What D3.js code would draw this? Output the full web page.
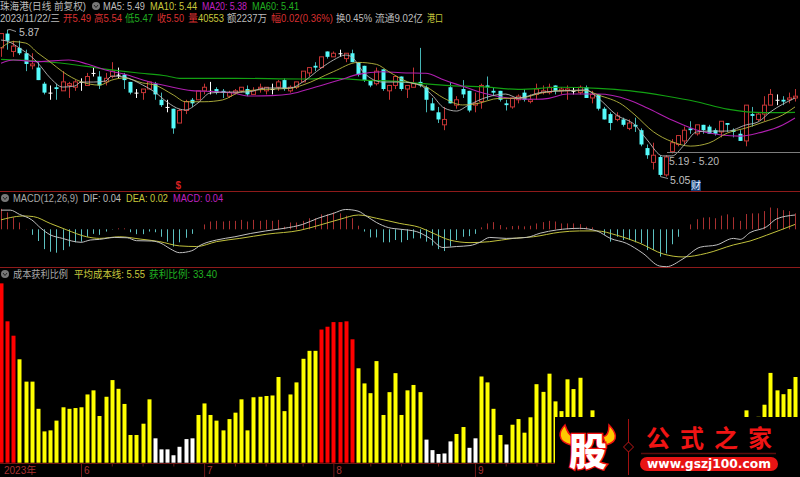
<!DOCTYPE html>
<html><head><meta charset="utf-8">
<script src="https://cdn.jsdelivr.net/npm/d3@7"></script>
<style>html,body{margin:0;padding:0;background:#000;overflow:hidden}svg{display:block}text{font-family:"Liberation Sans","Noto Sans CJK SC",sans-serif}</style>
</head><body><svg id="c" width="800" height="477"></svg>
<script>
const opens=[5.77,5.85,5.75,5.77,5.74,5.67,5.66,5.57,5.52,5.55,5.53,5.56,5.55,5.58,5.56,5.63,5.61,5.58,5.61,5.62,5.62,5.58,5.52,5.52,5.54,5.57,5.48,5.44,5.43,5.35,5.42,5.48,5.48,5.53,5.53,5.54,5.53,5.50,5.52,5.53,5.54,5.51,5.54,5.53,5.54,5.55,5.59,5.53,5.55,5.58,5.63,5.67,5.66,5.75,5.72,5.74,5.71,5.74,5.69,5.67,5.59,5.57,5.65,5.53,5.56,5.61,5.54,5.55,5.58,5.55,5.46,5.41,5.34,5.55,5.45,5.54,5.53,5.45,5.47,5.56,5.53,5.53,5.46,5.44,5.48,5.52,5.47,5.51,5.52,5.52,5.56,5.53,5.53,5.53,5.52,5.55,5.49,5.51,5.43,5.40,5.37,5.37,5.32,5.34,5.31,5.21,5.13,5.16,5.06,5.19,5.23,5.25,5.32,5.29,5.34,5.33,5.31,5.30,5.35,5.31,5.29,5.25,5.40,5.37,5.40,5.45,5.48,5.48,5.48,5.49];
const highs=[5.85,5.87,5.81,5.81,5.76,5.74,5.69,5.58,5.56,5.57,5.64,5.58,5.59,5.60,5.63,5.66,5.64,5.63,5.69,5.66,5.63,5.58,5.54,5.54,5.58,5.58,5.52,5.48,5.43,5.43,5.48,5.49,5.53,5.57,5.58,5.55,5.54,5.53,5.54,5.55,5.56,5.55,5.57,5.55,5.57,5.59,5.60,5.56,5.58,5.64,5.66,5.69,5.72,5.75,5.75,5.76,5.74,5.76,5.69,5.67,5.59,5.66,5.65,5.56,5.61,5.61,5.56,5.66,5.77,5.56,5.49,5.44,5.44,5.58,5.50,5.59,5.53,5.52,5.57,5.61,5.55,5.53,5.48,5.49,5.51,5.54,5.51,5.57,5.56,5.57,5.56,5.55,5.56,5.55,5.56,5.56,5.53,5.51,5.44,5.41,5.41,5.38,5.37,5.38,5.32,5.23,5.24,5.17,5.17,5.26,5.28,5.33,5.36,5.34,5.34,5.34,5.32,5.36,5.35,5.32,5.31,5.45,5.44,5.41,5.50,5.54,5.51,5.50,5.52,5.54];
const lows=[5.72,5.76,5.72,5.73,5.64,5.65,5.59,5.51,5.48,5.48,5.53,5.49,5.53,5.53,5.56,5.61,5.54,5.56,5.60,5.60,5.54,5.51,5.49,5.48,5.54,5.48,5.44,5.41,5.29,5.35,5.40,5.44,5.48,5.51,5.51,5.51,5.49,5.49,5.51,5.52,5.50,5.51,5.52,5.51,5.51,5.53,5.53,5.52,5.54,5.58,5.61,5.64,5.66,5.71,5.72,5.72,5.69,5.69,5.61,5.58,5.55,5.56,5.53,5.48,5.54,5.53,5.49,5.55,5.55,5.41,5.42,5.35,5.31,5.46,5.43,5.49,5.41,5.41,5.43,5.48,5.50,5.47,5.42,5.43,5.46,5.47,5.46,5.48,5.51,5.51,5.51,5.51,5.48,5.51,5.51,5.49,5.46,5.42,5.37,5.31,5.36,5.33,5.31,5.30,5.22,5.15,5.09,5.05,5.05,5.18,5.22,5.23,5.29,5.28,5.29,5.29,5.28,5.27,5.30,5.27,5.25,5.22,5.33,5.36,5.36,5.45,5.45,5.45,5.46,5.47];
const closes=[5.85,5.81,5.78,5.74,5.68,5.68,5.59,5.52,5.52,5.54,5.58,5.57,5.58,5.58,5.61,5.63,5.56,5.60,5.64,5.62,5.59,5.52,5.52,5.54,5.58,5.51,5.45,5.44,5.32,5.42,5.47,5.46,5.53,5.55,5.53,5.52,5.52,5.52,5.53,5.55,5.51,5.53,5.55,5.55,5.54,5.58,5.54,5.55,5.58,5.64,5.66,5.66,5.72,5.72,5.74,5.74,5.74,5.69,5.62,5.59,5.56,5.64,5.54,5.56,5.61,5.54,5.56,5.57,5.56,5.48,5.42,5.37,5.37,5.46,5.48,5.51,5.42,5.46,5.56,5.55,5.52,5.48,5.45,5.49,5.50,5.48,5.48,5.54,5.53,5.55,5.53,5.54,5.54,5.53,5.55,5.49,5.51,5.43,5.37,5.35,5.39,5.34,5.35,5.33,5.23,5.17,5.17,5.06,5.16,5.24,5.28,5.31,5.31,5.34,5.31,5.29,5.29,5.36,5.34,5.30,5.25,5.45,5.39,5.40,5.45,5.51,5.48,5.47,5.49,5.50];

const ma5=[[0,5.814],[1,5.808],[3,5.769],[5,5.719],[6,5.685],[8,5.602],[10,5.551],[12,5.557],[13,5.579],[15,5.579],[17,5.585],[18,5.613],[20,5.607],[23,5.563],[25,5.523],[27,5.467],[29,5.428],[30,5.423],[32,5.462],[34,5.518],[37,5.523],[40,5.523],[43,5.546],[47,5.546],[49,5.579],[52,5.657],[54,5.702],[56,5.730],[57,5.719],[59,5.630],[62,5.579],[65,5.579],[68,5.563],[70,5.507],[72,5.434],[74,5.417],[76,5.451],[79,5.495],[82,5.512],[84,5.490],[88,5.523],[91,5.529],[95,5.535],[97,5.490],[100,5.395],[103,5.339],[105,5.255],[107.5,5.166],[109,5.166],[111,5.227],[113,5.300],[115,5.305],[118,5.305],[121,5.339],[123,5.356],[125,5.412],[129,5.49]];
const ma10=[[0,5.769],[2,5.805],[4,5.797],[6,5.741],[8,5.691],[10,5.637],[13,5.581],[16,5.562],[18,5.590],[20,5.602],[23,5.574],[25,5.562],[28,5.507],[30,5.469],[33,5.469],[36,5.479],[39,5.525],[43,5.538],[47,5.544],[49,5.562],[54,5.637],[58,5.689],[61,5.678],[63,5.637],[66,5.581],[69,5.553],[72,5.488],[75,5.451],[77,5.456],[81,5.488],[84,5.488],[88,5.519],[91,5.531],[95,5.531],[97,5.507],[101,5.451],[103,5.395],[106,5.301],[109,5.246],[112,5.221],[115,5.238],[118,5.294],[121,5.322],[124,5.357],[127,5.395],[129,5.44]];
const ma20=[[0,5.684],[2,5.702],[6,5.693],[11,5.702],[14,5.680],[17,5.646],[20,5.624],[24,5.581],[27,5.557],[31,5.531],[35,5.525],[38,5.516],[40,5.501],[44,5.503],[47,5.512],[51,5.550],[55,5.590],[58,5.622],[62,5.637],[65,5.631],[69,5.628],[72,5.590],[76,5.544],[79,5.512],[83,5.488],[87,5.483],[89,5.488],[92,5.512],[97,5.512],[102,5.479],[105,5.434],[109,5.367],[113,5.311],[117,5.283],[120,5.277],[123,5.294],[127,5.339],[129,5.378]];
const ma60=[[0,5.706],[5,5.698],[11,5.680],[16,5.656],[22,5.631],[27,5.613],[29,5.600],[38,5.600],[49,5.596],[54,5.600],[59,5.590],[65,5.581],[68,5.572],[73,5.559],[78,5.553],[84,5.538],[91,5.550],[97,5.544],[102,5.531],[108,5.501],[113,5.469],[118,5.428],[124,5.408],[129,5.41]];

const macdHist=[.063,.052,.037,.021,.001,-.017,-.036,-.061,-.069,-.072,-.064,-.053,-.040,-.038,-.023,-.014,-.017,-.007,-.001,.003,.003,-.009,-.015,-.015,-.007,-.009,-.023,-.038,-.053,-.040,-.026,-.014,0,.015,.024,.026,.024,.026,.026,.029,.024,.029,.026,.029,.026,.029,.008,.021,.021,.026,.034,.034,.046,.046,.052,.049,.042,.034,.011,-.007,-.025,-.025,-.040,-.040,-.033,-.040,-.033,-.028,-.028,-.038,-.050,-.061,-.067,-.053,-.033,-.023,-.021,-.014,.006,.018,.022,.013,.006,.010,.011,.009,.011,.018,.022,.026,.024,.018,.018,.018,.016,.008,.006,0,-.017,-.038,-.023,-.033,-.033,-.040,-.043,-.064,-.064,-.084,-.074,-.046,-.023,0,.015,.031,.036,.037,.034,.042,.046,.037,.026,.047,.049,.049,.056,.067,.065,.059,.056,.049];
const dif=[[0,.059],[1.5,.059],[3,.046],[5,.029],[6.5,.003],[8,-.017],[10,-.028],[11.5,-.036],[13,-.040],[14.5,-.033],[16,-.031],[18.5,-.025],[20.5,-.026],[22,-.035],[24.5,-.036],[26,-.043],[27.5,-.060],[29,-.072],[31,-.066],[32.5,-.048],[35,-.033],[38,-.023],[40.5,-.013],[43,-.005],[46,.003],[49,.015],[51.5,.034],[54,.049],[56,.061],[58,.056],[59.5,.039],[61,.021],[63,.005],[65,0],[67.5,-.007],[69.7,-.028],[71.8,-.056],[74,-.053],[76.2,-.050],[77.8,-.040],[79.4,-.025],[82.1,-.028],[85.4,-.025],[87.6,-.012],[90.3,-.002],[94,.003],[96.8,-.005],[99,-.028],[101.6,-.043],[104.3,-.074],[107,-.113],[108.1,-.115],[110.8,-.091],[113.6,-.055],[116.3,-.048],[119,-.028],[120.1,-.031],[121.7,-.010],[124.4,.008],[126,.032],[129,.044]];
const dea=[[0,.029],[1.5,.036],[3.6,.041],[5.3,.039],[8,.018],[10.7,-.002],[13.9,-.023],[16,-.028],[19.3,-.023],[22.6,-.030],[25.8,-.038],[29,-.051],[31.8,-.053],[35,-.038],[38.8,-.028],[43.2,-.015],[48.6,-.003],[51.8,.013],[55.1,.031],[58.1,.044],[61,.034],[64.8,.018],[68,.006],[70.2,-.012],[72.9,-.033],[76.2,-.041],[79.4,-.038],[83.2,-.028],[86.5,-.023],[90.8,-.009],[94,-.005],[96.8,-.005],[100,-.018],[103.8,-.043],[107.6,-.076],[110.8,-.085],[114.6,-.074],[119,-.048],[121.7,-.036],[124.4,-.018],[129,.015]];

const profitRatio=[69.9,55.1,49.5,40.3,31.6,31.6,21.0,12.2,12.6,16.4,21.6,21.0,21.3,21.6,26.6,28.2,18.2,25.7,32.2,28.8,22.9,10.8,10.8,15.2,24.7,9.5,5.2,5.2,2.9,6.2,9.2,9.5,18.6,23.1,18.6,16.4,12.6,17.0,19.5,24.7,12.6,25.5,25.7,26.0,26.2,33.4,20.1,26.6,31.3,40.5,43.6,43.6,51.9,53.0,54.8,54.8,55.1,48.1,36.8,30.9,27.1,39.6,18.6,27.5,34.9,18.6,28.2,30.3,27.5,9.0,4.9,3.4,3.6,8.3,11.2,13.9,5.8,9.5,33.6,31.3,21.0,10.8,7.1,14.8,17.0,11.7,17.7,30.6,27.6,34.7,23.9,20.1,32.5,28.7,33.1,null,20.4,null,null,null,null,null,null,null,null,null,null,null,null,null,null,null,null,null,null,null,null,null,null,null,null,20.4,null,17.9,22.6,35.0,28.2,26.7,28.7,33.4];

const monthTicks=[0,13,33,54,77];
const monthLabels=["2023年","6","7","8","9"];
const minorTicks=[18,23,28,38,43,49,60,65,71,82,87];

const svg=d3.select("#c");
const x=d3.scaleLinear().domain([0,129]).range([1,795]);
const yP=d3.scaleLinear().domain([5.05,5.87]).range([176.7,30]);
const yM=d3.scaleLinear().domain([-.12,.07]).range([268.3,206.55]);
const yB=d3.scaleLinear().domain([0,70]).range([462.7,283.1]);
const idx=d3.range(opens.length);
const RED="#c23434",CY="#55fbfb",CYW="#45b4b4";

svg.append("rect").attr("width",800).attr("height",477).attr("fill","#000");

// pane rules
svg.selectAll("line.rule").data([191.5,267.5]).join("line").attr("x1",0).attr("x2",800)
  .attr("y1",d=>d).attr("y2",d=>d).attr("stroke","#8e1a1a");

// candles
const col=i=>closes[i]>opens[i]?RED:closes[i]<opens[i]?CY:"#fff";
const wick=i=>closes[i]>opens[i]?RED:closes[i]<opens[i]?CYW:"#fff";
const px=i=>Math.round(x(i))+.5;
svg.append("g").selectAll("line").data(idx).join("line")
  .attr("x1",px).attr("x2",px).attr("y1",i=>yP(highs[i])).attr("y2",i=>yP(lows[i])).attr("stroke",wick);
svg.append("g").selectAll("rect").data(idx).join("rect")
  .attr("x",i=>px(i)-2).attr("width",4)
  .attr("y",i=>yP(Math.max(opens[i],closes[i])))
  .attr("height",i=>Math.max(1,Math.abs(yP(opens[i])-yP(closes[i]))))
  .attr("fill",i=>closes[i]>opens[i]?"#000":col(i))
  .attr("stroke",i=>col(i)).attr("stroke-width",i=>closes[i]>opens[i]?1:0);

// moving averages
const lineP=d3.line().x(d=>x(d[0])).y(d=>yP(d[1])).curve(d3.curveMonotoneX);
[[ma60,"#12a012",1.2],[ma20,"#b01fb0",1.1],[ma10,"#b8b840",.9],[ma5,"#b8b8b8",.9]].forEach(([d,c,w])=>
  svg.append("path").attr("d",lineP(d)).attr("fill","none").attr("stroke",c).attr("stroke-width",w));

// price annotations
const T=(s,xx,yy,c,fs,extra)=>{const t=svg.append("text").attr("x",xx).attr("y",yy).attr("fill",c).attr("font-size",fs||10).attr("dominant-baseline","central").text(s);if(extra)extra(t);return t;};
svg.append("path").attr("d",`M${x(1)},${yP(5.87)}L10,29.5L16,31.5`).attr("fill","none").attr("stroke","#bbb").attr("stroke-width",.8);
T("5.87",19,32,"#c0c0c0",10.5);
svg.append("line").attr("x1",667).attr("x2",800).attr("y1",152.5).attr("y2",152.5).attr("stroke","#7c7c7c");
T("5.19 - 5.20",669,161,"#b8b8b8",10.5);
svg.append("path").attr("d",`M${x(107)+1},${yP(5.05)}L668,178.5`).attr("fill","none").attr("stroke","#bbb").attr("stroke-width",.8);
T("5.05",670,179.5,"#c0c0c0",10.5);
svg.append("rect").attr("x",691).attr("y",180.5).attr("width",10).attr("height",10.5).attr("fill","#123f78");
T("财",691,185.5,"#e8f0ff",10);
T("$",175.5,185,"#d82020",10,t=>t.attr("font-weight","700"));

// MACD
svg.append("g").selectAll("line").data(idx).join("line")
  .attr("x1",px).attr("x2",px).attr("y1",yM(0)).attr("y2",i=>yM(macdHist[i]))
  .attr("stroke",i=>macdHist[i]>=0?"#a83030":"#5cc0c0");
const lineM=d3.line().x(d=>x(d[0])).y(d=>yM(d[1])).curve(d3.curveMonotoneX);
svg.append("path").attr("d",lineM(dea)).attr("fill","none").attr("stroke","#c0c03c").attr("stroke-width",1);
svg.append("path").attr("d",lineM(dif)).attr("fill","none").attr("stroke","#c0c0c0").attr("stroke-width",1);

// profit-ratio bars
const barColor=v=>v>=45?"#ff0000":v>=10?"#ffff00":"#ffffff";
svg.append("g").selectAll("rect").data(profitRatio.map((v,i)=>[i,v]).filter(d=>d[1]!==null)).join("rect")
  .attr("x",d=>px(d[0])-2).attr("width",4).attr("y",d=>yB(d[1]))
  .attr("height",d=>yB(0)-yB(d[1])).attr("fill",d=>barColor(d[1]));

// time axis
const axisMajor=d3.axisBottom(x).tickValues(monthTicks).tickSize(14).tickFormat((d,i)=>monthLabels[i]);
const gA=svg.append("g").attr("transform","translate(0,463.5)").call(axisMajor);
gA.select(".domain").attr("stroke","#701818").attr("d","M0,0H800");
gA.selectAll(".tick line").attr("stroke","#701818");
gA.selectAll(".tick").filter(d=>d===0).select("line").remove();
gA.selectAll(".tick text").attr("fill","#a83030").attr("font-size",10).attr("font-family",null).attr("text-anchor","start").attr("x",2.5).attr("y",7).attr("dy",0).attr("dominant-baseline","central");
const gB=svg.append("g").attr("transform","translate(0,463.5)").call(d3.axisBottom(x).tickValues(minorTicks).tickSize(3).tickFormat(""));
gB.select(".domain").remove();
gB.selectAll(".tick line").attr("stroke","#701818");
gA.attr("font-family",null);

// headers
const dot=(cx,cy)=>{svg.append("circle").attr("cx",cx).attr("cy",cy).attr("r",4).attr("fill","#777");
  svg.append("path").attr("d",`M${cx-2},${cy-1}L${cx},${cy+1.5}L${cx+2},${cy-1}`).attr("fill","none").attr("stroke","#222").attr("stroke-width",1);};
const G="#bdbdbd",Y="#c8c83c",M="#c020c0",Gr="#20b020",R="#d83030";
const FIT=(s,x0,x1,yy,c)=>svg.append("text").attr("x",x0).attr("y",yy).attr("fill",c).attr("font-size",10).attr("dominant-baseline","central").attr("textLength",x1-x0).attr("lengthAdjust","spacingAndGlyphs").text(s);
FIT("珠海港(日线 前复权)",0,86,6,G);
dot(96,6);
FIT("MA5: 5.49",103,145,6,G);
FIT("MA10: 5.44",150,197,6,Y);
FIT("MA20: 5.38",202,247,6,M);
FIT("MA60: 5.41",252,299,6,Gr);
FIT("2023/11/22/三",0,60,18,G);
FIT("开5.49",63,91,18,R);
FIT("高5.54",94,122,18,R);
FIT("低5.47",125,153,18,Gr);
FIT("收5.50",157,184,18,R);
FIT("量",188,198,18,R);
FIT("40553",198,224,18,Y);
FIT("额2237万",227,267,18,G);
FIT("幅",271,281,18,R);
FIT("0.02(0.36%)",281,333,18,R);
FIT("换0.45%",336,372,18,G);
FIT("流通9.02亿",375,423,18,G);
FIT("港口",427,443,18,Y);
dot(5,198);
FIT("MACD(12,26,9)",13,78,198,"#a8a8a8");
FIT("DIF: 0.04",83,121,198,G);
FIT("DEA: 0.02",126,168,198,Y);
FIT("MACD: 0.04",173,223,198,M);
dot(5,274);
FIT("成本获利比例",13,68,274,"#a8a8a8");
FIT("平均成本线: 5.55",74,145,274,Y);
FIT("获利比例: 33.40",149,217,274,Gr);

// watermark logo
const L=svg.append("g");
L.append("rect").attr("x",555).attr("y",417).attr("width",245).attr("height",60).attr("fill","#000");
const horn=(d)=>L.append("path").attr("d",d).attr("fill","#ffc800").attr("stroke","#f01010").attr("stroke-width",1.5);
horn("M565,425C559,431 556,441 571,445L574,437C569,436 567,431 565,425Z");
horn("M609,425C615,431 621,441 606,445L603,437C608,436 609,431 609,425Z");
L.append("text").attr("x",588).attr("y",448).attr("text-anchor","middle").attr("dominant-baseline","central").style("font-family","'Noto Sans CJK SC'").attr("font-size",38).attr("font-weight","900").attr("fill","#fff").attr("stroke","#f01010").attr("stroke-width",2.5).attr("paint-order","stroke").text("股");
L.append("line").attr("x1",628.5).attr("x2",628.5).attr("y1",419).attr("y2",475).attr("stroke","#a01010");
L.append("path").attr("d","M628.5,442L633.5,447L628.5,452L623.5,447Z").attr("fill","#000").attr("stroke","#c01818");
["公","式","之","家"].forEach((c,i)=>L.append("text").attr("x",[658,692,726,760][i]).attr("y",436).attr("text-anchor","middle").attr("dominant-baseline","central").style("font-family","'Noto Sans CJK SC'").attr("font-size",24).attr("font-weight","700").attr("fill","#f01414").text(c));
L.append("line").attr("x1",641).attr("x2",776).attr("y1",453.5).attr("y2",453.5).attr("stroke","#5a0c0c").attr("stroke-width",1.5);
L.append("rect").attr("x",640).attr("y",457).attr("width",138).attr("height",14).attr("rx",7).attr("fill","#e81414");
L.append("text").attr("x",709).attr("y",464).attr("text-anchor","middle").attr("dominant-baseline","central").style("font-family","'DejaVu Sans'").attr("font-size",11.5).attr("font-weight","700").attr("fill","#fff").attr("textLength",124).attr("lengthAdjust","spacingAndGlyphs").text("www.gszj100.com");
</script></body></html>
